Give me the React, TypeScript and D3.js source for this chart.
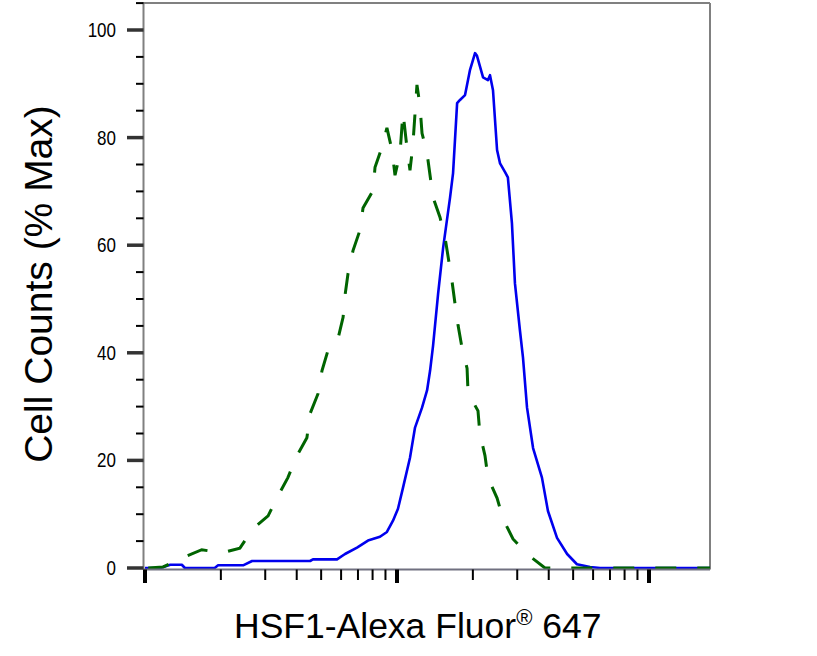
import React from "react";
import * as d3 from "d3";

// Fluorescence intensity (log axis) and % max counts
const blueX = [10, 11.5, 12.6, 14.0, 14.4, 18.9, 19.5, 24.5, 26.6, 45.2, 46.4, 57.8, 62.2, 69.4, 76.7, 85.6, 91.2, 96.4, 100.9, 105.6, 112.6, 117.9, 125.7, 131.6, 135.3, 139.0, 145.6, 152.5, 162.4, 166.9, 173.2, 177.8, 186.2, 194.9, 204.0, 207.7, 219.5, 229.6, 233.9, 240.4, 249.5, 256.4, 268.4, 275.4, 285.8, 293.8, 307.6, 316.2, 328.1, 346.7, 376.0, 397.2, 431.5, 473.2, 517.6, 583.4, 639.4, 1746];
const blueY = [0, 0, 0.6, 0.6, 0, 0, 0.5, 0.5, 1.3, 1.3, 1.6, 1.6, 2.6, 3.8, 5.1, 5.8, 6.7, 8.8, 11.0, 14.9, 20.5, 26.1, 29.8, 33.0, 36.7, 41.3, 51.0, 59.6, 68.9, 73.4, 86.4, 87.0, 87.9, 92.6, 95.7, 95.2, 91.2, 90.7, 91.6, 88.8, 77.7, 75.2, 73.6, 72.6, 64.1, 52.9, 44.1, 39.1, 29.8, 22.3, 16.8, 10.6, 5.6, 2.6, 0.7, 0.2, 0, 0];

const greenX = [10.3, 11.8, 14.1, 16.8, 20.2, 23.8, 26.8, 30.8, 33.7, 36.9, 40.1, 43.9, 45.2, 48.6, 50.4, 53.2, 58.3, 61.1, 62.2, 63.9, 66.9, 71.3, 73.3, 80.4, 81.8, 87.2, 91.2, 95.5, 98.2, 102.8, 105.6, 109.6, 112.6, 115.6, 120.0, 123.3, 125.7, 131.6, 139.0, 148.1, 155.0, 165.2, 169.8, 174.7, 181.3, 189.7, 191.4, 209.6, 213.2, 223.4, 229.6, 249.5, 263.6, 288.6, 328.1, 386.6, 583.4, 1746];
const greenY = [0, 0.2, 1.9, 3.4, 2.8, 3.7, 7.3, 9.7, 13.4, 16.8, 20.9, 24.2, 28.7, 32.4, 36.7, 40.4, 42.6, 46.6, 50.7, 54.7, 59.0, 62.8, 66.9, 70.2, 74.5, 78.2, 81.8, 77.7, 73.0, 77.1, 84.7, 78.0, 73.9, 78.6, 89.8, 86.0, 80.8, 77.1, 68.9, 65.2, 61.5, 53.4, 49.2, 45.1, 40.8, 37.1, 32.6, 29.2, 25.0, 20.9, 16.8, 13.0, 9.1, 5.4, 2.6, 0, 0, 0];

const yMajorTicks = [0, 20, 40, 60, 80, 100];
const yMinorTicks = [5, 10, 15, 25, 30, 35, 45, 50, 55, 65, 70, 75, 85, 90, 95, 105];
const xTitle = "HSF1-Alexa Fluor";
const xTitleSup = "®";
const xTitleEnd = " 647";
const yTitle = "Cell Counts (% Max)";

const FONT = "'Liberation Sans', Arial, Helvetica, sans-serif";

export default function App() {
  const left = 143.5, right = 710, top = 3, bottom = 569.5;
  const x = d3.scaleLog().domain([10, 1746]).range([145, 710]);
  const y = d3.scaleLinear().domain([0, 100]).range([568, 30]);

  const line = d3
    .line<[number, number]>()
    .x((d) => x(d[0]))
    .y((d) => y(d[1]));

  const blue = blueX.map((v, i) => [v, blueY[i]] as [number, number]);
  const green = greenX.map((v, i) => [v, greenY[i]] as [number, number]);

  const xTicks = x.ticks().filter((t) => t >= 10 && t <= 1746);
  const isMajor = (t: number) => Math.abs(Math.log10(t) - Math.round(Math.log10(t))) < 1e-6;

  return (
    <svg
      width={817}
      height={656}
      style={{ position: "absolute", left: 0, top: 0, background: "#fff" }}
    >
      <rect x={0} y={0} width={817} height={656} fill="#fff" />
      {/* frame */}
      <line x1={left} y1={top} x2={right} y2={top} stroke="#808080" strokeWidth={2} />
      <line x1={right} y1={top} x2={right} y2={bottom} stroke="#808080" strokeWidth={2} />
      <line x1={left} y1={top - 1} x2={left} y2={bottom} stroke="#808080" strokeWidth={2} />

      {/* curves */}
      <path d={line(blue) || ""} fill="none" stroke="#0000ee" strokeWidth={2.6} strokeLinejoin="round" />
      <path d={line(green) || ""} fill="none" stroke="#006400" strokeWidth={3} strokeDasharray="21 21" />

      <line x1={left} y1={bottom} x2={right} y2={bottom} stroke="#707080" strokeWidth={2} />

      {/* y ticks */}
      {yMinorTicks.map((t) => (
        <line key={"ym" + t} x1={136} x2={left} y1={y(t)} y2={y(t)} stroke="#000" strokeWidth={2} />
      ))}
      {yMajorTicks.map((t) => (
        <g key={"yM" + t}>
          <line x1={127} x2={left} y1={y(t)} y2={y(t)} stroke="#333" strokeWidth={3.5} />
          <text
            transform={`translate(116,${y(t)}) scale(0.85,1)`}
            textAnchor="end"
            dominantBaseline="central"
            fontFamily={FONT}
            fontSize={20}
            fill="#000"
          >
            {t}
          </text>
        </g>
      ))}

      {/* x ticks */}
      {xTicks.map((t) =>
        isMajor(t) ? (
          <line key={"x" + t} x1={x(t)} x2={x(t)} y1={bottom} y2={583} stroke="#000" strokeWidth={4} />
        ) : (
          <line key={"x" + t} x1={x(t)} x2={x(t)} y1={bottom} y2={580} stroke="#000" strokeWidth={2} />
        )
      )}

      {/* axis titles */}
      <text
        transform="translate(52,284) rotate(-90)"
        textAnchor="middle"
        fontFamily={FONT}
        fontSize={39}
        fill="#000"
      >
        {yTitle}
      </text>
      <text transform="translate(234,638)" fontFamily={FONT} fontSize={35.5} fill="#000">
        {xTitle}
        <tspan fontSize={22} dy={-13}>{xTitleSup}</tspan>
        <tspan dy={13}>{xTitleEnd}</tspan>
      </text>
    </svg>
  );
}
